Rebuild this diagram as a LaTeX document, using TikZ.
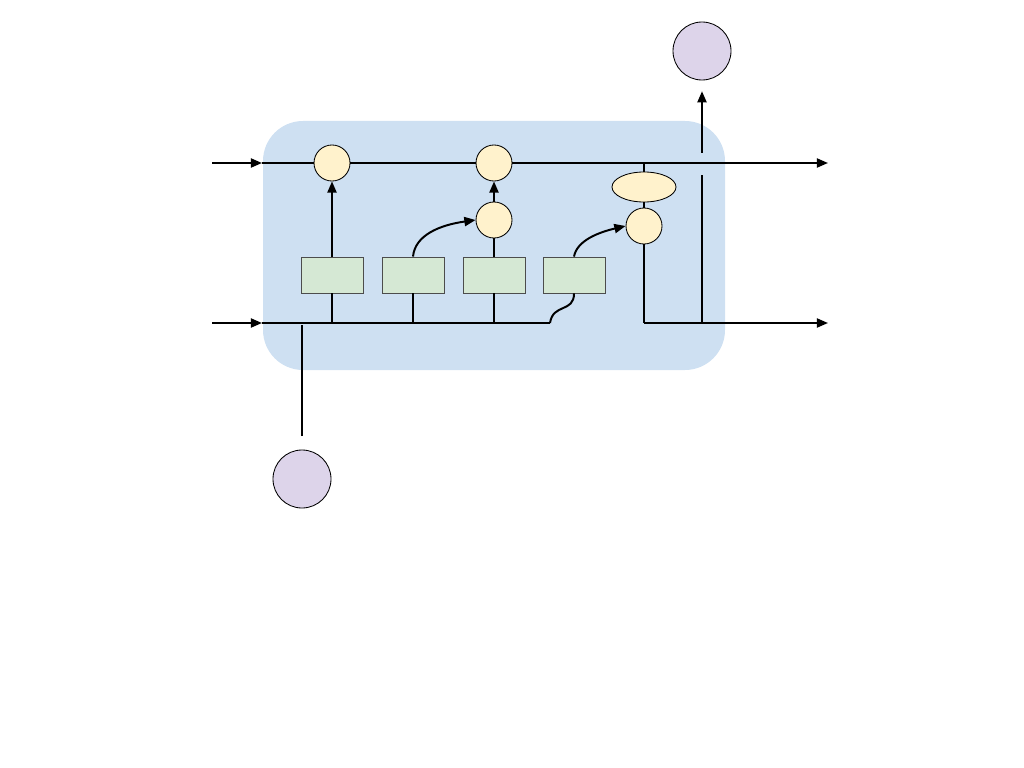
\documentclass[tikz,border=0pt]{standalone}
\usetikzlibrary{shapes.geometric, arrows.meta}
\definecolor{cellblue}{RGB}{206,224,242}
\definecolor{opyellow}{RGB}{255,242,204}
\definecolor{gategreen}{RGB}{213,232,212}
\definecolor{iopurple}{RGB}{221,212,234}

\begin{document}
\begin{tikzpicture}[x=0.025cm, y=-0.025cm, line width=1.4pt,
    >={Triangle[length=8pt,width=6.5pt]},
    op/.style={circle, draw, line width=0.6pt, fill=opyellow, minimum size=0.9cm, inner sep=0pt},
    opwide/.style={ellipse, draw, line width=0.6pt, fill=opyellow, minimum width=1.6cm, minimum height=0.75cm, inner sep=0pt},
    gate/.style={rectangle, draw=black!70, line width=0.6pt, fill=gategreen, minimum width=1.55cm, minimum height=0.9cm, inner sep=0pt},
    io/.style={circle, draw, line width=0.6pt, fill=iopurple, minimum size=1.45cm, inner sep=0pt}]
    \useasboundingbox (0,0) rectangle (1024,768);

    % cell body
    \fill[cellblue, rounded corners=1cm] (263,121) rectangle (725,370);

    % Inputs and outputs
    \node[io] (xin) at (302,479) {};
    \node[io] (hout) at (702,51) {};

    % Operators
    \node[op] (mulf) at (332,163) {};
    \node[op] (addc) at (494,163) {};
    \node[op] (muli) at (494,220) {};
    \node[opwide] (tanhc) at (644,187) {};
    \node[op] (mulo) at (644,226) {};

    % Gates
    \node[gate] (gf) at (332,275) {};
    \node[gate] (gi) at (413,275) {};
    \node[gate] (gc) at (494,275) {};
    \node[gate] (go) at (574,275) {};

    % Coordinates of the lines
    \coordinate (cprev) at (212,163);
    \coordinate (cin) at (262,163);
    \coordinate (cnext) at (828,163);
    \coordinate (ctap) at (644,163);
    \coordinate (hprev) at (212,323);
    \coordinate (hin) at (262,323);
    \coordinate (hbend) at (550,323);
    \coordinate (hnext) at (828,323);
    \coordinate (ocorner) at (644,323);
    \coordinate (hsplit) at (702,323);
    \coordinate (hgap1) at (702,175);
    \coordinate (hgap2) at (702,153);
    \coordinate (xtop) at (302,325);
    \coordinate (xend) at (302,436);

    % Cell state line
    \draw[->] (cprev) -- (cin);
    \draw (cin) -- (mulf) -- (addc);
    \draw[->] (addc) -- (cnext);

    % Hidden state line
    \draw[->] (hprev) -- (hin);
    \draw (hin) -- (hbend);
    \draw (hbend) .. controls (553,303) and (574,313) .. (go.south);
    \draw (xend) -- (xtop);

    % Gates to operators
    \draw (gf.south) -- (gf.south |- hin);
    \draw (gi.south) -- (gi.south |- hin);
    \draw (gc.south) -- (gc.south |- hin);
    \draw[->] (gf) -- (mulf);
    \draw[->] (gi.north) .. controls (415,235) and (440,225) .. (muli.west);
    \draw (gc) -- (muli);
    \draw[->] (muli) -- (addc);
    \draw[->] (go.north) .. controls (577,240) and (600,232) .. (mulo.west);

    % Output part
    \draw (ctap) -- (tanhc);
    \draw (tanhc) -- (mulo);
    \draw (mulo) -- (ocorner);
    \draw[->] (ocorner) -- (hnext);
    \draw (hsplit) -- (hgap1);
    \draw[->, shorten >=0.27cm] (hgap2) -- (hout);
\end{tikzpicture}
\end{document}
